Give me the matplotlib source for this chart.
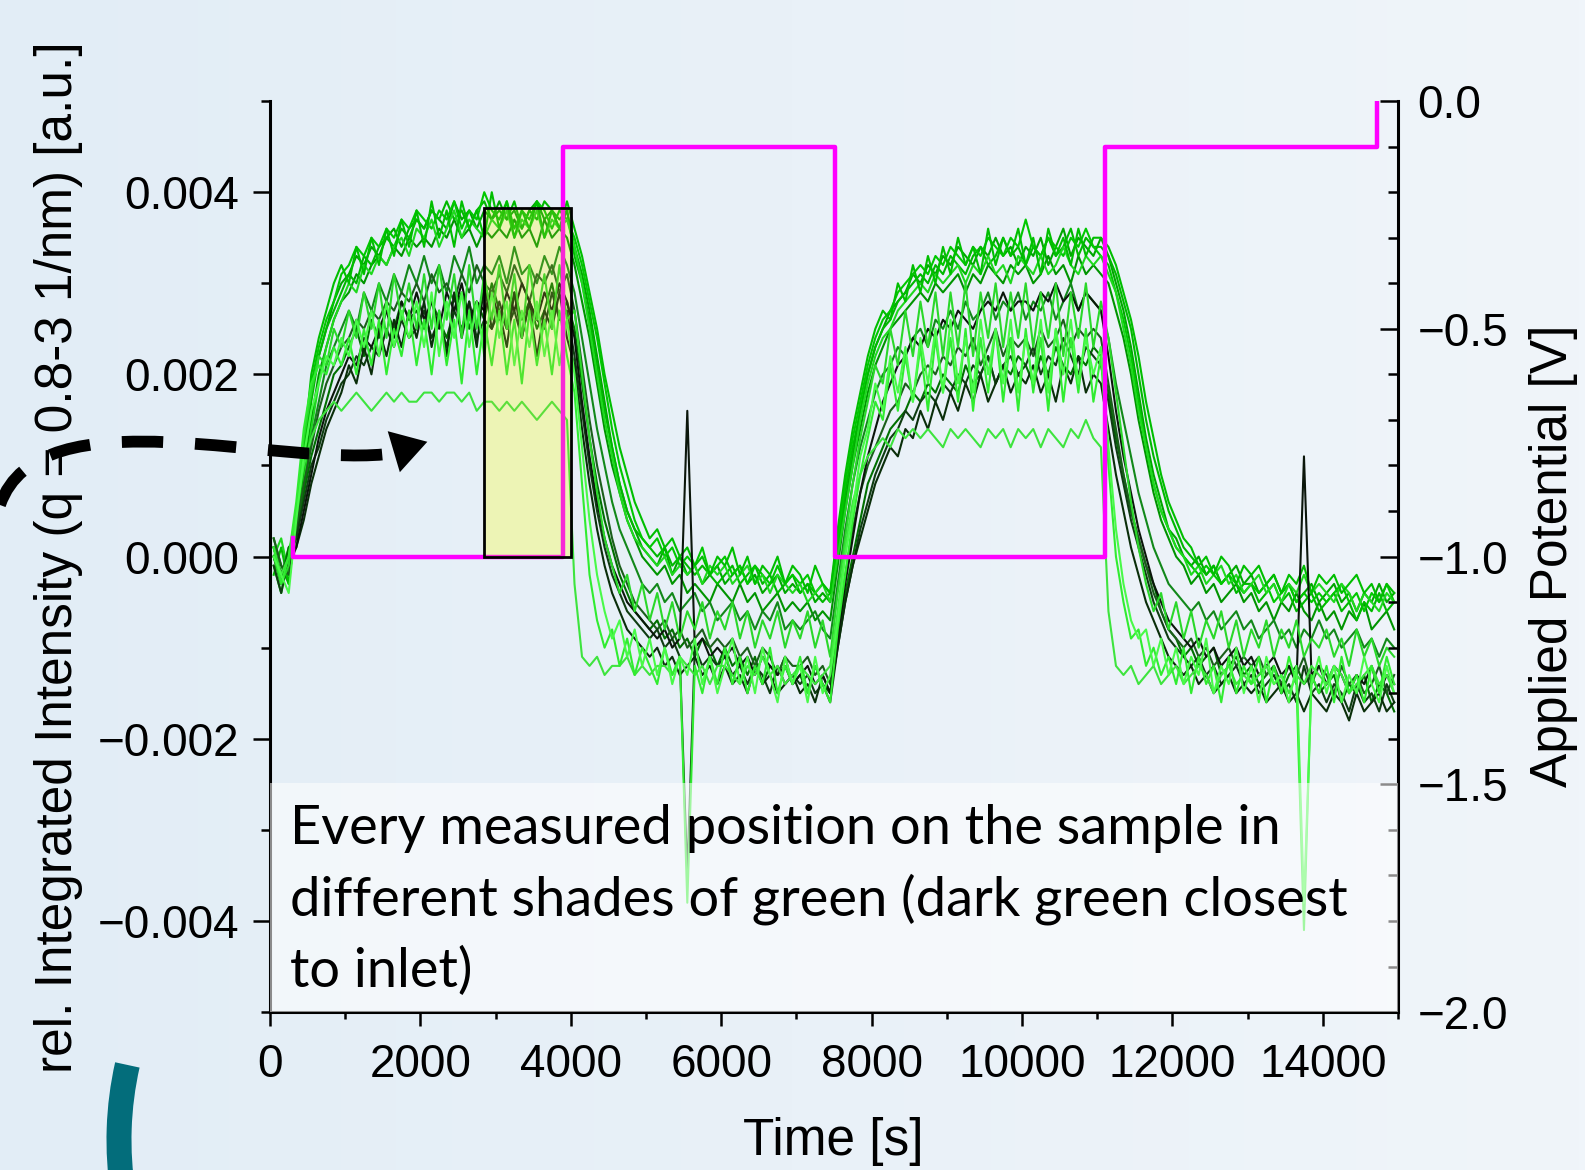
import matplotlib.pyplot as plt
import numpy as np
from matplotlib.colors import LinearSegmentedColormap
from matplotlib.patches import Rectangle, Arc, FancyArrowPatch, PathPatch
from matplotlib.path import Path
from matplotlib.ticker import MultipleLocator, FuncFormatter

plt.rcParams['font.family'] = ['Liberation Sans', 'DejaVu Sans']

# scan times [s]
time_s = np.arange(150) * 100 + 50

# rel. integrated intensity of every measured position, in units of 1e-4
int_black = [0, -3, -1, 1, 5, 9, 13, 16, 18, 20,
             22, 21, 24, 23, 25, 27, 24, 28, 26, 29,
             26, 28, 25, 29, 27, 30, 26, 28, 27, 29,
             26, 29, 27, 30, 28, 26, 29, 27, 30, 28,
             24, 17, 11, 6, 2, -1, -3, -5, -6, -7,
             -8, -9, -8, -10, -9, 16, -10, -9, -11, -10,
             -11, -10, -12, -11, -13, -11, -12, -13, -12, -14,
             -13, -12, -14, -13, -15, -9, -3, 2, 7, 11,
             14, 17, 19, 21, 22, 24, 23, 25, 24, 26,
             25, 27, 26, 25, 27, 28, 27, 29, 27, 28,
             28, 27, 29, 28, 30, 28, 29, 27, 29, 28,
             27, 22, 16, 11, 7, 3, 0, -3, -5, -7,
             -8, -9, -10, -9, -11, -10, -12, -11, -10, -12,
             -11, -13, -12, -11, -13, -12, -14, 11, -13, -12,
             -14, -12, -13, -15, -13, -14, -12, -15, -13, -14]
int_dark1 = [-1, -4, 0, 2, 6, 10, 12, 15, 17, 19,
             20, 22, 21, 23, 22, 25, 23, 26, 24, 25,
             27, 24, 26, 23, 27, 25, 28, 24, 26, 25,
             28, 25, 27, 24, 28, 26, 25, 29, 26, 27,
             22, 16, 10, 5, 1, -2, -4, -6, -7, -8,
             -9, -8, -10, -9, -11, -35, -10, -12, -11, -12,
             -11, -13, -12, -14, -12, -13, -15, -12, -14, -13,
             -14, -13, -15, -14, -16, -10, -5, -1, 3, 6,
             9, 11, 13, 14, 16, 15, 17, 18, 17, 19,
             18, 20, 19, 21, 20, 22, 19, 21, 22, 20,
             21, 23, 20, 22, 21, 24, 22, 20, 23, 22,
             21, 17, 12, 8, 4, 1, -2, -5, -7, -9,
             -10, -11, -12, -11, -13, -12, -14, -13, -12, -14,
             -13, -15, -14, -13, -15, -14, -16, -12, -15, -14,
             -16, -14, -15, -17, -14, -16, -15, -17, -14, -16]
int_dark2 = [2, -1, -2, 3, 8, 12, 16, 19, 21, 23,
             24, 26, 25, 27, 26, 28, 27, 29, 28, 30,
             28, 31, 29, 30, 28, 31, 29, 32, 30, 29,
             31, 29, 32, 30, 28, 31, 30, 32, 29, 31,
             27, 21, 15, 10, 6, 2, -1, -3, -5, -6,
             -7, -8, -7, -9, -8, -10, -9, -8, -10, -9,
             -10, -9, -11, -10, -12, -10, -11, -13, -11, -12,
             -12, -11, -13, -12, -14, -8, -2, 3, 7, 10,
             12, 14, 16, 17, 19, 18, 20, 21, 20, 22,
             21, 23, 22, 24, 21, 23, 25, 22, 24, 23,
             24, 22, 25, 23, 24, 26, 23, 25, 24, 25,
             24, 19, 14, 9, 5, 2, -1, -4, -6, -8,
             -9, -10, -9, -11, -10, -12, -11, -10, -12, -11,
             -12, -11, -13, -12, -14, -12, -13, -11, -14, -12,
             -13, -15, -12, -14, -13, -15, -14, -12, -15, -13]
int_dark3 = [0, -3, 1, 2, 7, 11, 14, 17, 20, 21,
             23, 25, 22, 26, 24, 27, 25, 28, 26, 27,
             25, 28, 26, 24, 27, 29, 25, 28, 26, 30,
             27, 25, 29, 26, 28, 25, 27, 30, 26, 28,
             25, 19, 13, 8, 4, 1, -2, -4, -6, -7,
             -8, -7, -9, -8, -10, -9, -11, -9, -10, -12,
             -10, -12, -11, -13, -11, -14, -12, -13, -11, -14,
             -13, -15, -12, -14, -15, -9, -4, 0, 4, 8,
             10, 12, 14, 15, 16, 18, 17, 19, 18, 20,
             19, 18, 21, 19, 20, 22, 19, 21, 20, 22,
             21, 19, 22, 20, 23, 21, 20, 22, 21, 23,
             22, 18, 13, 9, 5, 2, -1, -3, -6, -8,
             -9, -11, -10, -12, -11, -10, -13, -12, -11, -13,
             -12, -14, -13, -12, -15, -13, -12, -14, -13, -15,
             -14, -13, -16, -14, -15, -13, -16, -14, -15, -17]
int_dark4 = [1, -2, 0, 1, 4, 8, 11, 14, 16, 18,
             21, 19, 23, 20, 25, 22, 26, 23, 27, 24,
             28, 23, 27, 22, 29, 24, 28, 23, 30, 25,
             27, 23, 29, 24, 28, 22, 27, 25, 29, 24,
             21, 14, 8, 3, -1, -4, -6, -8, -9, -10,
             -11, -10, -12, -11, -13, -12, -11, -13, -12, -14,
             -12, -14, -13, -15, -12, -14, -13, -15, -14, -13,
             -15, -14, -16, -13, -15, -10, -5, -1, 2, 5,
             8, 10, 12, 11, 14, 13, 16, 14, 17, 15,
             18, 16, 19, 17, 20, 17, 19, 21, 18, 20,
             19, 21, 18, 20, 17, 21, 19, 22, 18, 20,
             19, 14, 9, 5, 1, -2, -5, -7, -9, -11,
             -12, -13, -12, -14, -13, -15, -14, -13, -15, -14,
             -15, -14, -16, -15, -14, -16, -15, -17, -15, -16,
             -17, -15, -16, -18, -15, -17, -16, -15, -17, -16]
int_mid = [1, -2, 0, 3, 9, 15, 20, 23, 26, 28,
           29, 31, 30, 32, 33, 32, 34, 33, 35, 34,
           35, 34, 36, 35, 37, 35, 36, 34, 36, 35,
           36, 35, 37, 35, 36, 34, 37, 35, 36, 35,
           32, 28, 24, 19, 14, 10, 7, 4, 2, 0,
           -1, -2, -1, -3, -2, -4, -3, -4, -5, -3,
           -4, -5, -3, -5, -4, -6, -5, -4, -6, -5,
           -6, -5, -7, -6, -7, -1, 5, 10, 14, 18,
           21, 23, 25, 26, 27, 28, 29, 28, 30, 29,
           30, 31, 29, 31, 30, 32, 31, 30, 32, 31,
           32, 30, 31, 33, 31, 32, 30, 33, 31, 32,
           31, 30, 27, 24, 20, 15, 11, 7, 4, 2,
           0, -1, -3, -2, -4, -3, -5, -4, -3, -5,
           -4, -6, -5, -7, -5, -6, -4, -6, -7, -5,
           -7, -6, -8, -6, -7, -5, -8, -7, -6, -8]
int_mid2 = [0, -2, 1, 2, 7, 13, 17, 21, 23, 25,
            27, 25, 29, 27, 30, 28, 31, 29, 32, 30,
            33, 30, 32, 29, 33, 31, 34, 30, 32, 31,
            33, 30, 34, 31, 32, 30, 33, 31, 34, 32,
            29, 24, 19, 14, 10, 6, 3, 1, -1, -3,
            -4, -3, -5, -4, -6, -5, -4, -6, -5, -7,
            -6, -5, -7, -6, -8, -6, -7, -5, -8, -7,
            -8, -7, -6, -8, -9, -3, 3, 8, 12, 15,
            18, 20, 21, 23, 22, 24, 25, 23, 26, 25,
            27, 25, 28, 26, 27, 29, 26, 28, 27, 29,
            26, 28, 27, 29, 26, 28, 30, 27, 29, 28,
            27, 24, 19, 15, 11, 7, 4, 1, -1, -3,
            -4, -5, -6, -5, -7, -6, -8, -7, -6, -8,
            -7, -9, -8, -7, -9, -8, -10, -8, -9, -7,
            -9, -8, -10, -9, -8, -10, -9, -11, -9, -10]
int_top1 = [2, -1, -3, 4, 11, 18, 22, 25, 28, 30,
            31, 33, 32, 34, 33, 35, 36, 34, 36, 37,
            36, 38, 37, 36, 39, 37, 38, 36, 38, 37,
            39, 37, 38, 36, 38, 39, 37, 38, 36, 38,
            34, 31, 27, 22, 17, 12, 8, 5, 3, 1,
            0, -1, 1, -2, 0, -2, -1, -3, -2, -1,
            -3, -2, -1, -3, -2, -4, -3, -2, -4, -3,
            -4, -3, -5, -4, -5, 0, 6, 11, 16, 20,
            23, 25, 27, 28, 29, 31, 30, 32, 31, 33,
            32, 34, 33, 32, 34, 33, 35, 33, 34, 32,
            34, 33, 35, 32, 34, 36, 33, 35, 34, 33,
            35, 33, 30, 27, 23, 18, 13, 9, 6, 3,
            2, 0, -1, 0, -2, -1, -3, -2, -1, -3,
            -2, -4, -3, -2, -4, -3, -5, -4, -3, -5,
            -4, -3, -5, -4, -6, -4, -5, -3, -5, -4]
int_top2 = [1, -2, -1, 3, 10, 17, 22, 25, 27, 29,
            31, 30, 33, 32, 34, 35, 34, 36, 35, 37,
            36, 38, 37, 39, 37, 38, 36, 38, 39, 37,
            38, 37, 39, 36, 38, 37, 39, 38, 37, 38,
            33, 30, 26, 21, 16, 12, 8, 5, 3, 2,
            1, 0, 1, -1, 0, -1, -2, -1, -2, -3,
            -2, -1, -3, -2, -1, -3, -2, -4, -3, -2,
            -4, -3, -4, -5, -4, 1, 7, 12, 16, 20,
            23, 25, 26, 28, 29, 30, 31, 30, 32, 31,
            33, 32, 31, 33, 34, 32, 33, 35, 33, 34,
            32, 34, 33, 35, 33, 34, 36, 33, 35, 34,
            34, 33, 31, 28, 25, 20, 15, 11, 8, 5,
            3, 1, 0, -1, -2, -1, -3, -2, -4, -3,
            -3, -5, -4, -3, -5, -4, -6, -5, -4, -6,
            -5, -4, -6, -5, -7, -5, -6, -4, -6, -5]
int_top3 = [-1, -4, 0, 5, 12, 19, 23, 26, 28, 31,
            32, 34, 33, 35, 34, 36, 35, 37, 36, 38,
            37, 36, 38, 37, 39, 36, 38, 37, 40, 38,
            37, 39, 36, 38, 37, 39, 38, 36, 38, 37,
            35, 32, 28, 24, 19, 14, 10, 7, 4, 2,
            1, 2, 0, 1, -1, 0, -1, 1, -2, -1,
            0, -2, -1, -3, -1, -2, -3, -1, -3, -2,
            -3, -2, -4, -3, -4, 2, 8, 13, 17, 21,
            24, 26, 27, 29, 30, 31, 32, 31, 33, 32,
            34, 33, 32, 34, 33, 35, 34, 33, 35, 34,
            37, 34, 33, 35, 34, 33, 35, 34, 36, 34,
            33, 32, 29, 26, 22, 17, 12, 8, 5, 3,
            1, 0, -1, -2, -1, -2, -3, -2, -3, -4,
            -3, -4, -3, -5, -4, -3, -5, -4, -5, -4,
            -5, -4, -3, -5, -4, -6, -4, -5, -3, -5]
int_top4 = [0, 2, -2, 2, 8, 14, 19, 23, 26, 28,
            30, 29, 32, 31, 33, 32, 34, 35, 33, 36,
            35, 37, 34, 36, 38, 35, 37, 36, 35, 37,
            36, 38, 35, 37, 36, 38, 35, 37, 36, 37,
            34, 30, 25, 20, 15, 11, 7, 4, 2, 1,
            0, -1, 0, -2, -1, -2, -1, -3, -1, -2,
            -1, -3, -2, -1, -3, -2, -4, -2, -3, -4,
            -3, -5, -4, -3, -5, 0, 5, 10, 15, 19,
            22, 24, 25, 27, 28, 29, 30, 29, 31, 30,
            31, 32, 30, 32, 31, 33, 31, 32, 30, 33,
            32, 31, 33, 31, 32, 34, 32, 31, 33, 32,
            33, 31, 29, 25, 21, 16, 12, 8, 5, 3,
            1, 0, -2, -1, -3, -2, -1, -3, -2, -4,
            -3, -2, -4, -3, -5, -3, -4, -2, -4, -3,
            -4, -5, -3, -4, -6, -4, -5, -6, -4, -5]
int_top5 = [-2, 1, -3, 4, 12, 20, 24, 27, 30, 32,
            30, 34, 31, 35, 32, 36, 33, 37, 34, 38,
            34, 39, 35, 38, 34, 39, 36, 38, 35, 40,
            36, 39, 35, 38, 36, 39, 35, 38, 36, 39,
            36, 33, 29, 25, 20, 16, 12, 9, 6, 4,
            2, 3, 1, 2, 0, 1, -1, 0, -2, 0,
            -1, 1, -2, 0, -3, -1, -2, 0, -3, -1,
            -2, -4, -1, -3, -4, 3, 9, 14, 18, 22,
            25, 27, 26, 30, 28, 32, 29, 33, 30, 34,
            31, 35, 32, 34, 31, 36, 32, 35, 33, 36,
            32, 35, 31, 36, 33, 35, 32, 36, 33, 35,
            35, 34, 32, 29, 26, 22, 17, 13, 9, 6,
            4, 2, 1, -1, 0, -2, 0, -1, -3, -1,
            -2, -1, -3, -2, -4, -2, -3, -1, -4, -2,
            -3, -2, -4, -3, -2, -4, -3, -5, -3, -4]
int_zig1 = [1, -3, 0, 6, 14, 19, 21, 20, 23, 21,
            24, 20, 25, 21, 26, 20, 25, 22, 27, 21,
            26, 20, 27, 21, 26, 19, 27, 20, 26, 21,
            27, 20, 26, 19, 27, 21, 26, 20, 27, 22,
            18, 8, -2, -7, -10, -8, -12, -9, -13, -10,
            -12, -14, -10, -13, -11, -38, -12, -15, -11, -14,
            -10, -14, -11, -15, -12, -14, -10, -15, -12, -14,
            -11, -15, -12, -14, -16, -8, -2, 4, 9, 13,
            17, 15, 21, 16, 22, 17, 23, 16, 24, 18,
            24, 17, 25, 16, 24, 18, 25, 17, 24, 16,
            25, 18, 24, 16, 25, 17, 24, 18, 25, 17,
            22, 10, 0, -5, -9, -8, -12, -10, -13, -11,
            -14, -10, -15, -11, -14, -12, -16, -11, -15, -12,
            -14, -11, -16, -12, -15, -11, -14, -41, -13, -15,
            -12, -16, -11, -15, -13, -16, -12, -15, -11, -14]
int_zig2 = [0, -2, -4, 4, 11, 16, 19, 22, 21, 24,
            22, 26, 23, 27, 22, 28, 23, 27, 24, 28,
            23, 29, 22, 28, 24, 29, 23, 28, 22, 29,
            24, 28, 21, 27, 23, 28, 22, 27, 21, 26,
            20, 12, 4, -2, -6, -9, -7, -11, -8, -12,
            -9, -13, -10, -14, -11, -13, -9, -14, -11, -15,
            -12, -9, -14, -11, -15, -10, -13, -16, -11, -14,
            -12, -16, -11, -15, -13, -7, 0, 5, 11, 14,
            19, 16, 22, 18, 23, 17, 24, 19, 25, 18,
            26, 19, 24, 18, 26, 20, 25, 19, 26, 18,
            24, 19, 26, 18, 25, 20, 26, 19, 24, 20,
            23, 12, 3, -3, -7, -9, -8, -12, -9, -13,
            -10, -14, -11, -13, -9, -15, -12, -14, -10, -15,
            -12, -16, -11, -14, -13, -16, -12, -38, -14, -11,
            -15, -12, -16, -13, -15, -11, -14, -16, -12, -15]
int_zig3 = [0, -3, -1, 5, 13, 18, 22, 21, 25, 23,
            27, 24, 29, 25, 30, 24, 31, 26, 30, 25,
            31, 25, 32, 26, 31, 24, 32, 25, 31, 26,
            32, 25, 31, 24, 32, 26, 31, 25, 32, 26,
            27, 20, 13, 7, 2, -1, -4, -2, -6, -3,
            -7, -4, -8, -5, -9, -6, -8, -5, -9, -6,
            -8, -5, -9, -6, -10, -7, -9, -6, -10, -7,
            -9, -6, -10, -7, -11, -4, 2, 8, 13, 17,
            21, 19, 25, 21, 27, 22, 28, 23, 29, 22,
            29, 23, 30, 22, 29, 24, 30, 23, 29, 24,
            30, 23, 29, 24, 30, 22, 29, 24, 30, 23,
            28, 24, 18, 12, 6, 1, -3, -6, -4, -8,
            -5, -9, -6, -10, -7, -9, -6, -10, -7, -11,
            -8, -10, -7, -11, -8, -10, -7, -11, -9, -10,
            -8, -11, -9, -12, -8, -11, -9, -12, -10, -11]
int_low = [1, -2, 0, 5, 10, 13, 15, 16, 17, 16,
           17, 18, 17, 16, 17, 18, 17, 18, 17, 17,
           18, 18, 17, 18, 18, 17, 18, 16, 17, 17,
           16, 17, 16, 17, 16, 15, 16, 17, 16, 15,
           -3, -11, -12, -11, -13, -12, -12, -11, -13, -12,
           -13, -12, -12, -13, -11, -12, -13, -12, -14, -12,
           -12, -13, -14, -12, -13, -11, -13, -12, -14, -13,
           -12, -13, -14, -13, -12, -6, 1, 6, 9, 11,
           12, 13, 12, 14, 13, 14, 13, 14, 13, 12,
           14, 13, 14, 13, 12, 14, 13, 14, 12, 14,
           13, 14, 12, 14, 13, 12, 14, 13, 15, 13,
           12, -6, -12, -13, -12, -14, -13, -12, -14, -13,
           -12, -14, -13, -12, -13, -15, -13, -12, -14, -13,
           -14, -13, -12, -14, -13, -15, -13, -14, -12, -13,
           -14, -12, -13, -15, -14, -13, -12, -14, -13, -15]

# applied potential steps [s], [V]
pot_time = [310, 310, 3900, 3900, 7510, 7510, 11110, 11110, 14720, 14720]
pot_volt = [-0.96, -1.0, -1.0, -0.1, -0.1, -1.0, -1.0, -0.1, -0.1, 0.0]

# highlighted window
hl_start, hl_end, hl_top = 2850, 4000, 0.00383

curves = [
    (int_mid, '#009400'), (int_top1, '#00a600'), (int_top2, '#00b800'),
    (int_top3, '#00c800'), (int_top4, '#1ed81e'), (int_top5, '#00be00'),
    (int_mid2, '#12881a'),
    (int_dark3, '#007000'), (int_dark2, '#1b5e1b'), (int_dark1, '#0f3d12'),
    (int_dark4, '#0a2e0a'), (int_black, '#0b160b'),
    (int_zig3, '#2ad82a'), (int_low, '#3ee43e'), (int_zig1, '#30ec30'),
    (int_zig2, '#48fa48'),
]

fig = plt.figure(figsize=(15.85, 11.70), dpi=100)

# slide background
bg = fig.add_axes([0, 0, 1, 1], zorder=-10)
bg_cmap = LinearSegmentedColormap.from_list('bg', ['#E2EDF6', '#F0F5FA'])
bg.imshow(np.linspace(0, 1, 256)[None, :], cmap=bg_cmap, aspect='auto',
          extent=[0, 1, 0, 1])
bg.axis('off')

ax = fig.add_axes([0.1703, 0.1350, 0.7117, 0.7786])
ax.set_facecolor('none')
# pale yellow under the highlighted curves
ax.add_patch(Rectangle((hl_start, 0), hl_end - hl_start, hl_top,
                       facecolor='#F2FFD6', edgecolor='none', zorder=0.5))
for vals, col in curves:
    ax.plot(time_s, np.array(vals) * 1e-4, color=col, lw=1.5)

ax.set_xlim(0, 15000)
ax.set_ylim(-0.005, 0.005)
ax.spines['top'].set_visible(False)
ax.spines['right'].set_visible(False)
for s in ('left', 'bottom'):
    ax.spines[s].set_linewidth(2.2)
ax.xaxis.set_major_locator(MultipleLocator(2000))
ax.xaxis.set_minor_locator(MultipleLocator(1000))
ax.yaxis.set_major_locator(MultipleLocator(0.002))
ax.yaxis.set_minor_locator(MultipleLocator(0.001))


def fmt_left(v, pos):
    if abs(v) < 1e-9:
        return '0.000'
    return f'{v:.3f}'.replace('-', '\u2212')


ax.yaxis.set_major_formatter(FuncFormatter(fmt_left))
ax.tick_params(axis='y', which='major', direction='out', length=12, width=1.8,
               pad=10, labelsize=33)
ax.tick_params(axis='y', which='minor', direction='out', length=6.5, width=1.8)
ax.tick_params(axis='x', which='major', direction='out', length=10, width=1.8,
               pad=12, labelsize=33)
ax.tick_params(axis='x', which='minor', direction='out', length=5, width=1.8)

ax2 = ax.twinx()
ax2.set_facecolor('none')
ax2.plot(pot_time, pot_volt, color='#FF00FF', lw=3.2, zorder=3)
# tinted overlay with frame on top of curves and potential
ax2.add_patch(Rectangle((hl_start, 0), hl_end - hl_start, hl_top,
                        transform=ax.transData,
                        facecolor=(0.85, 0.8, 0.2, 0.2),
                        edgecolor='black', lw=2, zorder=4))
ax2.set_ylim(-2.0, 0.0)
for s in ('top', 'left', 'bottom'):
    ax2.spines[s].set_visible(False)
ax2.spines['right'].set_linewidth(2.2)
ax2.yaxis.set_major_locator(MultipleLocator(0.5))
ax2.yaxis.set_minor_locator(MultipleLocator(0.1))


def fmt_right(v, pos):
    if abs(v) < 1e-9:
        return '0.0'
    return f'{v:.1f}'.replace('-', '\u2212')


ax2.yaxis.set_major_formatter(FuncFormatter(fmt_right))
ax2.tick_params(axis='y', which='major', direction='in', length=13, width=1.8,
                pad=14, labelsize=33)
ax2.tick_params(axis='y', which='minor', direction='in', length=7, width=1.8)

fig.text(0.0372, 0.524, 'rel. Integrated Intensity (q = 0.8-3 1/nm) [a.u.]',
         rotation=90, ha='center', va='center', fontsize=37)
fig.text(0.980, 0.525, 'Applied Potential [V]', rotation=90,
         ha='center', va='center', fontsize=37)
fig.text(0.526, 0.024, 'Time [s]', ha='center', va='center', fontsize=37)

# semi-transparent caption box over the lower part of the plot
fig.add_artist(Rectangle((0.1703, 0.135), 0.7117, 0.1957,
                         transform=fig.transFigure, facecolor='white',
                         alpha=0.55, edgecolor='none', zorder=5))
fig.text(0.183, 0.2308,
         'Every measured position on the sample in\n'
         'different shades of green (dark green closest\n'
         'to inlet)',
         ha='left', va='center', fontsize=39, family='Lato',
         linespacing=1.5, zorder=6)

# dashed pointer arrow
W, H = 1585.0, 1170.0
verts = [(0 / W, 1 - 505 / H), (40 / W, 1 - 390 / H),
         (280 / W, 1 - 470 / H), (396 / W, 1 - 453 / H)]
arrow_path = Path(verts, [Path.MOVETO, Path.CURVE4, Path.CURVE4, Path.CURVE4])
fig.add_artist(PathPatch(arrow_path, transform=fig.transFigure, fill=False,
                         lw=8.5, edgecolor='black',
                         linestyle=(0, (3.5, 2.7)), zorder=7))
fig.add_artist(FancyArrowPatch((386 / W, 1 - 454 / H), (430 / W, 1 - 441 / H),
                               transform=fig.transFigure,
                               arrowstyle='-|>,head_length=1.8,head_width=1.1',
                               mutation_scale=14, color='black', lw=0,
                               zorder=7))

# teal arc decoration
fig.add_artist(Arc((460 / W, 1 - 1140 / H), 682 / W, 682 / H,
                   theta1=163, theta2=192, transform=fig.transFigure,
                   color='#036D7B', lw=18, zorder=7))

fig.savefig('out.png', dpi=100)
